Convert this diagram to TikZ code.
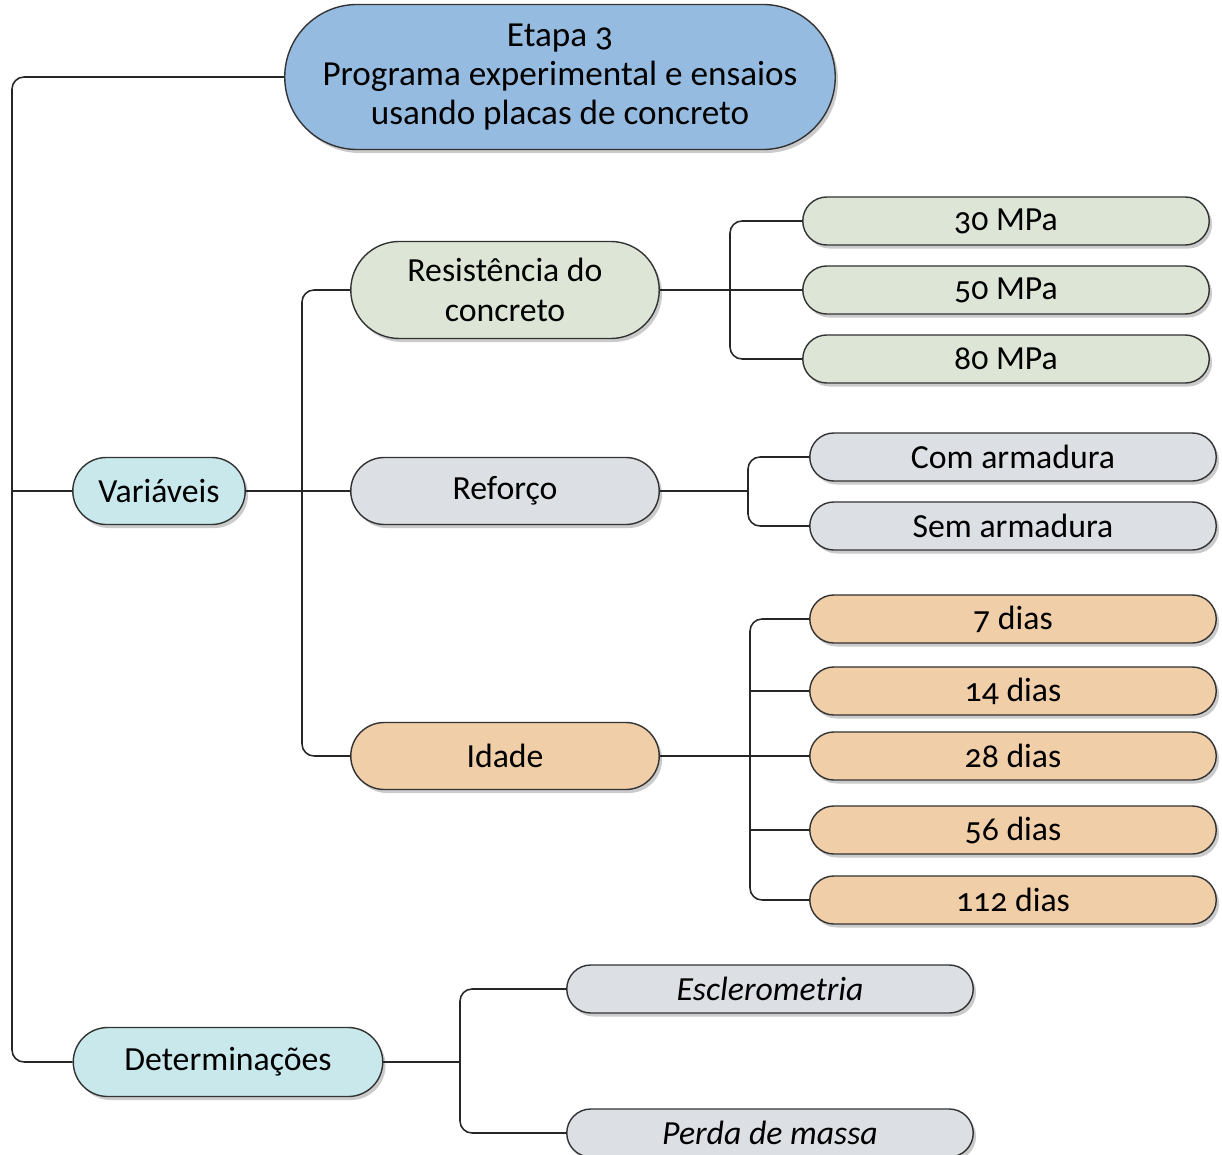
\documentclass[tikz,border=0pt]{standalone}
\usepackage{fontspec}
\setmainfont{Carlito}[Numbers=OldStyle]
\usepackage{tikz}
\usetikzlibrary{shapes.misc,shadows,positioning}

\definecolor{rootblue}{RGB}{150,187,224}
\definecolor{catcyan}{RGB}{200,232,236}
\definecolor{resgreen}{RGB}{221,230,214}
\definecolor{refgray}{RGB}{220,224,228}
\definecolor{agetan}{RGB}{240,206,168}

\begin{document}
\begin{tikzpicture}[x=0.025cm, y=-0.025cm,
    pill/.style={rounded rectangle, draw=black!80, line width=1pt,
                 font=\fontsize{24}{28}\selectfont, align=center, inner sep=2pt,
                 drop shadow={shadow xshift=2pt, shadow yshift=-2.5pt,
                              fill=black!45, opacity=0.45}},
    leaf/.style={pill, minimum width=10.3cm, minimum height=1.2cm},
    mid/.style={pill, minimum width=7.85cm, minimum height=1.675cm},
    link/.style={draw=black!85, line width=1.1pt, rounded corners=0.3cm}]
  \fill[white] (0,0) rectangle (1222,1155);
  \useasboundingbox (0,0) rectangle (1222,1155);

  % ---- Root ----
  \node[pill, fill=rootblue, minimum width=13.9cm, minimum height=3.625cm,
        font=\fontsize{25}{28}\selectfont]
    (root) at (560,77) {Etapa 3\\Programa experimental e ensaios\\usando placas de concreto};

  % ---- Level 1 ----
  \node[pill, fill=catcyan, minimum width=4.45cm, minimum height=1.675cm]
    (var) at (159,491) {Variáveis};
  \node[pill, fill=catcyan, minimum width=7.875cm, minimum height=1.725cm]
    (det) at (228,1062) {Determinações};

  % ---- Level 2 ----
  \node[mid, fill=resgreen, minimum height=2.425cm] (res) at (505,290) {Resistência do\\concreto};
  \node[mid, fill=refgray] (ref) at (505,491) {Reforço};
  \node[mid, fill=agetan] (ida) at (505,756) {Idade};

  % ---- Leaves ----
  \foreach \nm/\yy/\txt in {m30/221/30 MPa, m50/290/50 MPa, m80/359/80 MPa}
    \node[leaf, fill=resgreen] (\nm) at (1006,\yy) {\txt};
  \foreach \nm/\yy/\txt in {com/457/Com armadura, sem/526/Sem armadura}
    \node[leaf, fill=refgray] (\nm) at (1013,\yy) {\txt};
  \foreach \nm/\yy/\txt in {d7/619/7 dias, d14/691/14 dias, d28/756/28 dias,
                            d56/830/56 dias, d112/900/112 dias}
    \node[leaf, fill=agetan] (\nm) at (1013,\yy) {\txt};
  \node[leaf, fill=refgray, font=\fontsize{24}{28}\selectfont\itshape]
    (esc) at (770,989) {Esclerometria};
  \node[leaf, fill=refgray, font=\fontsize{24}{28}\selectfont\itshape]
    (pm) at (770,1133) {Perda de massa};

  % ---- Connectors ----
  \coordinate (spine) at (12,491);
  \coordinate (b1) at (302,491);
  \coordinate (b2) at (730,290);
  \coordinate (b3) at (748,491);
  \coordinate (b4) at (750,756);
  \coordinate (b5) at (460,1062);

  \draw[link] (root.west) -| (spine |- det.west) -- (det.west);
  \draw[link] (spine) -- (var.west);

  \draw[link] (var.east) -- (ref.west);
  \draw[link] (res.west) -| (b1 |- ida.west) -- (ida.west);

  \draw[link] (res.east) -- (m50.west);
  \draw[link] (m30.west) -| (b2 |- m80.west) -- (m80.west);

  \draw[link] (ref.east) -- (b3);
  \draw[link] (com.west) -| (b3 |- sem.west) -- (sem.west);

  \draw[link] (ida.east) -- (d28.west);
  \draw[link] (d7.west) -| (b4 |- d112.west) -- (d112.west);
  \draw[link] (b4 |- d14.west) -- (d14.west);
  \draw[link] (b4 |- d56.west) -- (d56.west);

  \draw[link] (det.east) -- (b5);
  \draw[link] (esc.west) -| (b5 |- pm.west) -- (pm.west);
\end{tikzpicture}
\end{document}
